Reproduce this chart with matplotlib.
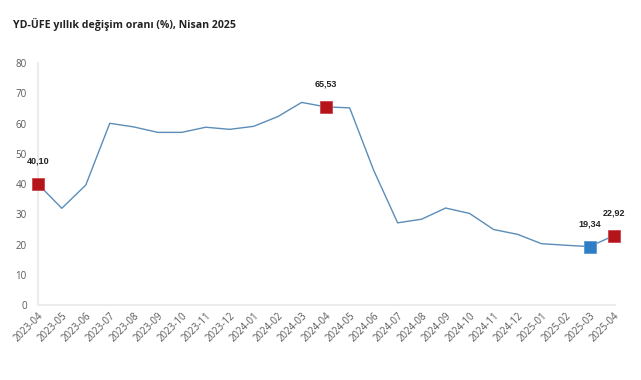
import matplotlib
matplotlib.use("Agg")
import matplotlib.pyplot as plt

# YD-UFE annual change
months = ["2023-04", "2023-05", "2023-06", "2023-07", "2023-08", "2023-09",
          "2023-10", "2023-11", "2023-12", "2024-01", "2024-02", "2024-03",
          "2024-04", "2024-05", "2024-06", "2024-07", "2024-08", "2024-09",
          "2024-10", "2024-11", "2024-12", "2025-01", "2025-02", "2025-03",
          "2025-04"]
values = [40.10, 32.0, 39.7, 60.1, 58.9, 57.1, 57.1, 58.8, 58.1, 59.1,
          62.3, 67.0, 65.53, 65.2, 44.6, 27.2, 28.4, 32.1, 30.3, 25.0,
          23.4, 20.3, 19.8, 19.34, 22.92]

# highlighted points
red_idx = [0, 12, 24]
blue_idx = [23]

plt.rcParams['font.family'] = ['Open Sans', 'DejaVu Sans']

fig = plt.figure(figsize=(6.41, 3.80), dpi=100)
ax = fig.add_axes([0.059, 0.197, 0.9, 0.637])

x = list(range(len(values)))
ax.plot(x, values, color="#5b8db8", linewidth=1.0, zorder=2)

for i in red_idx:
    ax.plot(i, values[i], marker="s", markersize=8.5, color="#b5141b",
            markeredgecolor="#c9474c", markeredgewidth=0.6, zorder=3, clip_on=False)
for i in blue_idx:
    ax.plot(i, values[i], marker="s", markersize=8.5, color="#2f7dc4",
            markeredgecolor="#5a9ad4", markeredgewidth=0.6, zorder=3, clip_on=False)

for i in red_idx + blue_idx:
    label = f"{values[i]:.2f}".replace(".", ",")
    ax.annotate(label, (i, values[i]), xytext=(0, 13), textcoords="offset points",
                ha="center", va="bottom", fontsize=6.5, fontweight="bold",
                color="#222222", family=["Liberation Sans", "DejaVu Sans"])

ax.set_xlim(0, 24.05)
ax.set_ylim(0, 80)
ax.set_yticks(range(0, 81, 10))
ax.set_xticks(x)
ax.set_xticklabels(months, rotation=45, ha="right", rotation_mode="anchor")
ax.tick_params(axis="both", length=0, labelsize=7, colors="#595959")
ax.tick_params(axis="y", pad=8)
ax.tick_params(axis="x", pad=4)

for s in ["top", "right"]:
    ax.spines[s].set_visible(False)
for s in ["left", "bottom"]:
    ax.spines[s].set_color("#ececec")
    ax.spines[s].set_linewidth(1.5)

fig.text(0.02, 0.935, "YD-ÜFE yıllık değişim oranı (%), Nisan 2025",
         fontsize=7.6, fontweight="bold", color="#222222", ha="left", va="center")

fig.savefig("out.png", dpi=100, facecolor="white")
